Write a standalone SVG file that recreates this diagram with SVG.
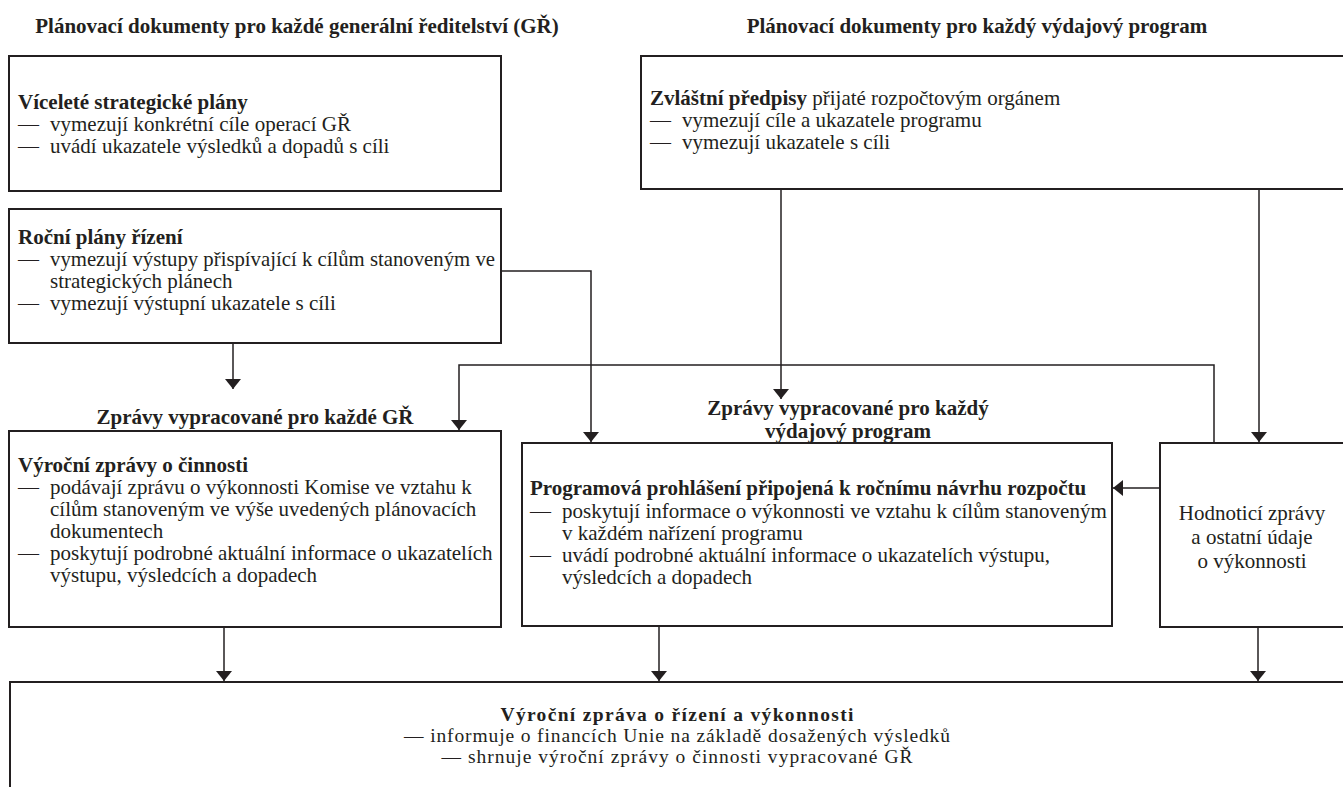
<svg xmlns="http://www.w3.org/2000/svg" width="1343" height="787" viewBox="0 0 1343 787">
<defs>
<style>
text{font-family:"Liberation Serif","DejaVu Serif",serif;font-size:21px;fill:#231f20}
.b{font-weight:bold}
.c{text-anchor:middle}
.s{font-size:19.5px}
.box{fill:#fff;stroke:#231f20;stroke-width:2}
.ln{fill:none;stroke:#231f20;stroke-width:1.5}
</style>
<marker id="ah" viewBox="0 0 10 16" refX="10" refY="8" markerWidth="10" markerHeight="16" markerUnits="userSpaceOnUse" orient="auto">
<path d="M0,0 L10,8 L0,16 Z" fill="#231f20"/>
</marker>
</defs>
<rect width="1343" height="787" fill="#fff"/>
<g id="titles">
<text class="b c" x="297" y="33">Plánovací dokumenty pro každé generální ředitelství (GŘ)</text>
<text class="b c" x="977" y="33">Plánovací dokumenty pro každý výdajový program</text>
<text class="b c" x="255" y="424">Zprávy vypracované pro každé GŘ</text>
<text class="b c" x="848" y="415">Zprávy vypracované pro každý</text>
<text class="b c" x="848" y="438">výdajový program</text>
</g>
<g id="connectors">
<path class="ln" d="M233,343 V389" marker-end="url(#ah)"/>
<path class="ln" d="M501,271 H591 V442" marker-end="url(#ah)"/>
<path class="ln" d="M1214,443 V365 H459 V430" marker-end="url(#ah)"/>
<path class="ln" d="M781,189 V399" marker-end="url(#ah)"/>
<path class="ln" d="M1259,189 V442" marker-end="url(#ah)"/>
<path class="ln" d="M1160,488 H1113" marker-end="url(#ah)"/>
<path class="ln" d="M224,627 V681" marker-end="url(#ah)"/>
<path class="ln" d="M659,627 V681" marker-end="url(#ah)"/>
<path class="ln" d="M1258,627 V681" marker-end="url(#ah)"/>
</g>
<g id="n-viceleté">
<rect class="box" x="9" y="56" width="492" height="135"/>
<text class="b" x="18" y="109">Víceleté strategické plány</text>
<text x="18" y="131">—</text><text x="50" y="131">vymezují konkrétní cíle operací GŘ</text>
<text x="18" y="153">—</text><text x="50" y="153">uvádí ukazatele výsledků a dopadů s cíli</text>
</g>
<g id="n-rocni">
<rect class="box" x="9" y="209" width="492" height="134"/>
<text class="b" x="18" y="244">Roční plány řízení</text>
<text x="18" y="266">—</text><text x="50" y="266" textLength="445" lengthAdjust="spacingAndGlyphs">vymezují výstupy přispívající k cílům stanoveným ve</text>
<text x="50" y="288">strategických plánech</text>
<text x="18" y="310">—</text><text x="50" y="310">vymezují výstupní ukazatele s cíli</text>
</g>
<g id="n-zvlastni">
<rect class="box" x="641" y="56" width="712" height="133"/>
<text x="650" y="105"><tspan class="b">Zvláštní předpisy</tspan> přijaté rozpočtovým orgánem</text>
<text x="650" y="127">—</text><text x="682" y="127">vymezují cíle a ukazatele programu</text>
<text x="650" y="149">—</text><text x="682" y="149">vymezují ukazatele s cíli</text>
</g>
<g id="n-vyrocni">
<rect class="box" x="9" y="431" width="492" height="196"/>
<text class="b" x="18" y="472">Výroční zprávy o činnosti</text>
<text x="18" y="494">—</text><text x="50" y="494">podávají zprávu o výkonnosti Komise ve vztahu k</text>
<text x="50" y="516">cílům stanoveným ve výše uvedených plánovacích</text>
<text x="50" y="538">dokumentech</text>
<text x="18" y="560">—</text><text x="50" y="560">poskytují podrobné aktuální informace o ukazatelích</text>
<text x="50" y="582">výstupu, výsledcích a dopadech</text>
</g>
<g id="n-programova">
<rect class="box" x="522" y="443" width="590" height="183"/>
<text class="b" x="530" y="495">Programová prohlášení připojená k ročnímu návrhu rozpočtu</text>
<text x="530" y="518">—</text><text x="562" y="518">poskytují informace o výkonnosti ve vztahu k cílům stanoveným</text>
<text x="562" y="540">v každém nařízení programu</text>
<text x="530" y="562">—</text><text x="562" y="562">uvádí podrobné aktuální informace o ukazatelích výstupu,</text>
<text x="562" y="584">výsledcích a dopadech</text>
</g>
<g id="n-hodnotici">
<rect class="box" x="1160" y="443" width="193" height="184"/>
<text class="c" x="1252" y="520">Hodnoticí zprávy</text>
<text class="c" x="1252" y="544">a ostatní údaje</text>
<text class="c" x="1252" y="568">o výkonnosti</text>
</g>
<g id="n-zprava">
<rect class="box" x="10" y="682" width="1343" height="120"/>
<text class="b c s" x="677" y="721" textLength="353" lengthAdjust="spacing">Výroční zpráva o řízení a výkonnosti</text>
<text class="c s" x="677" y="742" textLength="546" lengthAdjust="spacing">— informuje o financích Unie na základě dosažených výsledků</text>
<text class="c s" x="677" y="763" textLength="471" lengthAdjust="spacing">— shrnuje výroční zprávy o činnosti vypracované GŘ</text>
</g>
</svg>
